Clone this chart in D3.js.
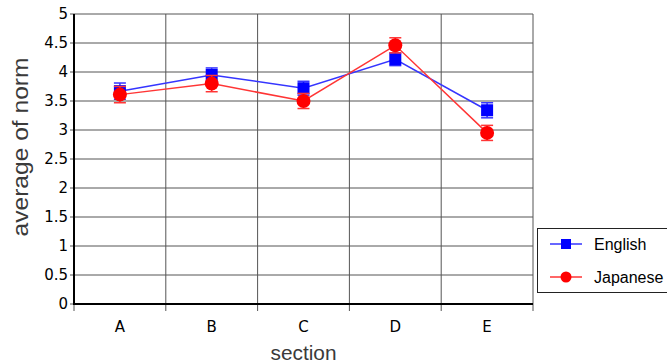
<!DOCTYPE html>
<html>
<head>
<meta charset="utf-8">
<script src="https://cdn.jsdelivr.net/npm/d3@7"></script>
<style>
  body { margin: 0; background: #fff; }
  svg { display: block; }
</style>
</head>
<body>
<div id="chart"></div>
<script>
// chart data
const sections = ["A", "B", "C", "D", "E"];
const englishMeans = [3.67, 3.95, 3.72, 4.22, 3.34];
const englishErr = [0.14, 0.12, 0.12, 0.11, 0.13];
const japaneseMeans = [3.61, 3.80, 3.50, 4.46, 2.95];
const japaneseErr = [0.14, 0.14, 0.13, 0.13, 0.13];
const yTicks = [0, 0.5, 1, 1.5, 2, 2.5, 3, 3.5, 4, 4.5, 5];

let w = 667, h = 364,
	margin = {top: 14, right: 134, bottom: 60, left: 74};

let svg = d3.select("#chart").append("svg").attr("width", w).attr("height", h);

let scaleX = d3.scaleBand().domain(sections).range([margin.left, w - margin.right]);
let scaleY = d3.scaleLinear().domain([0, 5]).range([h - margin.bottom, margin.top]);

let font = "'DejaVu Sans', Verdana, sans-serif",
	titleFont = "'Liberation Sans', Arial, sans-serif";

// horizontal grid
svg.append("g")
	.selectAll("line")
	.data(yTicks)
	.enter().append("line")
	.attr("x1", margin.left - 4).attr("x2", w - margin.right)
	.attr("y1", d => scaleY(d)).attr("y2", d => scaleY(d))
	.style("stroke", "#555").style("stroke-width", 1);

// vertical grid + ticks below axis
let xBounds = sections.map(s => scaleX(s)).concat([scaleX.range()[1]]);
svg.append("g")
	.selectAll("line")
	.data(xBounds)
	.enter().append("line")
	.attr("x1", d => d).attr("x2", d => d)
	.attr("y1", margin.top).attr("y2", h - margin.bottom + 7)
	.style("stroke", "#555").style("stroke-width", 1);

// axes lines
svg.append("line")
	.attr("x1", margin.left).attr("x2", margin.left)
	.attr("y1", margin.top).attr("y2", h - margin.bottom)
	.style("stroke", "#000").style("stroke-width", 2);
svg.append("line")
	.attr("x1", margin.left - 1).attr("x2", w - margin.right)
	.attr("y1", h - margin.bottom).attr("y2", h - margin.bottom)
	.style("stroke", "#000").style("stroke-width", 2);

// y tick labels
svg.append("g")
	.selectAll("text")
	.data(yTicks)
	.enter().append("text")
	.attr("x", margin.left - 6)
	.attr("y", d => scaleY(d))
	.attr("text-anchor", "end")
	.attr("dominant-baseline", "central")
	.style("font-family", font).style("font-size", "15px").style("fill", "#000")
	.text(d => d);

// x tick labels
svg.append("g")
	.selectAll("text")
	.data(sections)
	.enter().append("text")
	.attr("x", d => scaleX(d) + scaleX.bandwidth() / 2)
	.attr("y", h - margin.bottom + 23)
	.attr("text-anchor", "middle")
	.attr("dominant-baseline", "central")
	.style("font-family", font).style("font-size", "15px")
	.text(d => d);

// axis titles
svg.append("text")
	.attr("x", scaleX.range()[0] + (scaleX.range()[1] - scaleX.range()[0]) / 2)
	.attr("y", 352)
	.attr("text-anchor", "middle")
	.attr("dominant-baseline", "central")
	.attr("textLength", 66).attr("lengthAdjust", "spacingAndGlyphs")
	.style("font-family", titleFont).style("font-size", "21px").style("fill", "#3a3a3a")
	.text("section");
svg.append("text")
	.attr("transform", "translate(20,147) rotate(-90)")
	.attr("text-anchor", "middle")
	.attr("dominant-baseline", "central")
	.attr("textLength", 179).attr("lengthAdjust", "spacingAndGlyphs")
	.style("font-family", titleFont).style("font-size", "22px").style("fill", "#3a3a3a")
	.text("average of norm");

let series = [
	{name: "English", means: englishMeans, err: englishErr, line: "#3535ff", color: "#0000ff", shape: "square"},
	{name: "Japanese", means: japaneseMeans, err: japaneseErr, line: "#ff3535", color: "#ff0000", shape: "circle"}
];

let cx = s => scaleX(s) + scaleX.bandwidth() / 2;

series.forEach(function(sr){
	let g = svg.append("g");
	let pts = sections.map((s, i) => ({s: s, v: sr.means[i], e: sr.err[i]}));

	g.append("path")
		.datum(pts)
		.attr("d", d3.line().x(d => cx(d.s)).y(d => scaleY(d.v)))
		.style("fill", "none").style("stroke", sr.line).style("stroke-width", 1.5);

	pts.forEach(function(p){
		let x = cx(p.s);
		g.append("line")
			.attr("x1", x).attr("x2", x)
			.attr("y1", scaleY(p.v - p.e)).attr("y2", scaleY(p.v + p.e))
			.style("stroke", sr.line).style("stroke-width", 1.5);
		[p.v - p.e, p.v + p.e].forEach(function(v){
			g.append("line")
				.attr("x1", x - 6).attr("x2", x + 6)
				.attr("y1", scaleY(v)).attr("y2", scaleY(v))
				.style("stroke", sr.line).style("stroke-width", 1.5);
		});
		if(sr.shape === "square"){
			g.append("rect")
				.attr("x", x - 6).attr("y", scaleY(p.v) - 6)
				.attr("width", 12).attr("height", 12)
				.style("fill", sr.color);
		}else{
			g.append("circle")
				.attr("cx", x).attr("cy", scaleY(p.v)).attr("r", 7)
				.style("fill", sr.color);
		}
	});
});

// legend
let legend = svg.append("g");
legend.append("rect")
	.attr("x", 537.5).attr("y", 228.5)
	.attr("width", 135).attr("height", 64)
	.style("fill", "#fff").style("stroke", "#222").style("stroke-width", 1);

series.forEach(function(sr, i){
	let y = 244 + i * 33;
	legend.append("line")
		.attr("x1", 550).attr("x2", 582)
		.attr("y1", y).attr("y2", y)
		.style("stroke", sr.line).style("stroke-width", 1.5);
	if(sr.shape === "square"){
		legend.append("rect")
			.attr("x", 561).attr("y", y - 5)
			.attr("width", 10).attr("height", 10)
			.style("fill", sr.color);
	}else{
		legend.append("circle")
			.attr("cx", 566).attr("cy", y).attr("r", 5.5)
			.style("fill", sr.color);
	}
	legend.append("text")
		.attr("x", 594).attr("y", y)
		.attr("dominant-baseline", "central")
		.style("font-family", titleFont).style("font-size", "16px")
		.text(sr.name);
});
</script>
</body>
</html>
